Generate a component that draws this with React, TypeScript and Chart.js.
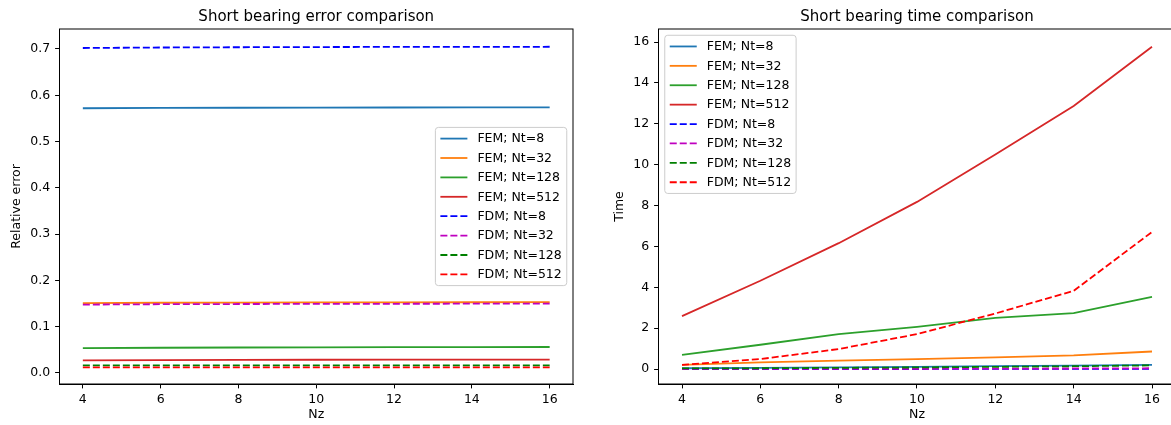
import React, { useEffect, useRef } from "react";
import { Chart, registerables } from "chart.js";

Chart.register(...registerables);

const FONT = '"DejaVu Sans", "Liberation Sans", sans-serif';

// ---- data ----
const nz = [4, 6, 8, 10, 12, 14, 16];
const xTicks = [4, 6, 8, 10, 12, 14, 16];
const errTicks = [0, 0.1, 0.2, 0.3, 0.4, 0.5, 0.6, 0.7];
const timeTicks = [0, 2, 4, 6, 8, 10, 12, 14, 16];

const seriesLabels = [
  "FEM; Nt=8",
  "FEM; Nt=32",
  "FEM; Nt=128",
  "FEM; Nt=512",
  "FDM; Nt=8",
  "FDM; Nt=32",
  "FDM; Nt=128",
  "FDM; Nt=512",
];
const seriesColors = ["#1f77b4", "#ff7f0e", "#2ca02c", "#d62728", "#0000ff", "#bf00bf", "#008000", "#ff0000"];
const seriesDashed = [false, false, false, false, true, true, true, true];

// relative error
const errFem8 = [0.572, 0.5727, 0.5731, 0.5734, 0.5736, 0.5737, 0.5738];
const errFem32 = [0.151, 0.1517, 0.1521, 0.1524, 0.1526, 0.1528, 0.1529];
const errFem128 = [0.0535, 0.0545, 0.0551, 0.0555, 0.0558, 0.056, 0.0561];
const errFem512 = [0.0272, 0.0279, 0.0283, 0.0286, 0.0288, 0.0289, 0.029];
const errFdm8 = [0.7022, 0.7032, 0.7038, 0.7042, 0.7045, 0.7047, 0.7048];
const errFdm32 = [0.1478, 0.1486, 0.149, 0.1493, 0.1495, 0.1497, 0.1498];
const errFdm128 = [0.0165, 0.0165, 0.0165, 0.0165, 0.0165, 0.0165, 0.0165];
const errFdm512 = [0.012, 0.012, 0.012, 0.012, 0.012, 0.012, 0.012];

// time
const timeFem8 = [0.04, 0.06, 0.08, 0.11, 0.14, 0.17, 0.21];
const timeFem32 = [0.21, 0.33, 0.41, 0.49, 0.57, 0.67, 0.86];
const timeFem128 = [0.7, 1.19, 1.71, 2.07, 2.51, 2.74, 3.53];
const timeFem512 = [2.59, 4.32, 6.16, 8.18, 10.5, 12.87, 15.77];
const timeFdm8 = [0.002, 0.003, 0.004, 0.005, 0.007, 0.009, 0.011];
const timeFdm32 = [0.005, 0.008, 0.012, 0.016, 0.022, 0.03, 0.04];
const timeFdm128 = [0.03, 0.04, 0.06, 0.08, 0.11, 0.14, 0.18];
const timeFdm512 = [0.21, 0.49, 0.98, 1.71, 2.72, 3.83, 6.71];

const errSeries = [errFem8, errFem32, errFem128, errFem512, errFdm8, errFdm32, errFdm128, errFdm512];
const timeSeries = [timeFem8, timeFem32, timeFem128, timeFem512, timeFdm8, timeFdm32, timeFdm128, timeFdm512];

// ---- plugins ----
const framePlugin = {
  id: "mplFrame",
  afterDatasetsDraw(chart: any) {
    const { ctx, chartArea } = chart;
    const { left, top, right, bottom } = chartArea;
    ctx.save();
    ctx.strokeStyle = "#000";
    ctx.lineWidth = 1;
    ctx.strokeRect(left, top, right - left, bottom - top);
    ctx.restore();
  },
};

const legendPlugin = {
  id: "mplLegend",
  afterDraw(chart: any, _args: any, opts: any) {
    const { ctx, chartArea } = chart;
    const fs = 12.5;
    ctx.save();
    ctx.font = `${fs}px ${FONT}`;
    const items = chart.data.datasets.map((ds: any) => ({
      label: ds.label as string,
      color: ds.borderColor as string,
      dash: (ds.borderDash || []) as number[],
    }));
    const textW = Math.max(...items.map((i: any) => ctx.measureText(i.label).width));
    const padX = 5;
    const handle = 27;
    const gap = 10;
    const rowH = 19.4;
    const w = padX + handle + gap + textW + padX;
    const h = items.length * rowH + 3;
    const axPad = 6.25;
    let x: number;
    let y: number;
    if (opts.loc === "center right") {
      x = chartArea.right - axPad - w;
      y = (chartArea.top + chartArea.bottom) / 2 - h / 2;
    } else {
      x = chartArea.left + axPad;
      y = chartArea.top + axPad;
    }
    // box
    const r = 3;
    ctx.beginPath();
    ctx.moveTo(x + r, y);
    ctx.lineTo(x + w - r, y);
    ctx.quadraticCurveTo(x + w, y, x + w, y + r);
    ctx.lineTo(x + w, y + h - r);
    ctx.quadraticCurveTo(x + w, y + h, x + w - r, y + h);
    ctx.lineTo(x + r, y + h);
    ctx.quadraticCurveTo(x, y + h, x, y + h - r);
    ctx.lineTo(x, y + r);
    ctx.quadraticCurveTo(x, y, x + r, y);
    ctx.closePath();
    ctx.fillStyle = "rgba(255,255,255,0.8)";
    ctx.fill();
    ctx.strokeStyle = "#cccccc";
    ctx.lineWidth = 1;
    ctx.stroke();

    items.forEach((it: any, i: number) => {
      const cy = y + 1.5 + rowH * (i + 0.5);
      ctx.beginPath();
      ctx.setLineDash(it.dash);
      ctx.strokeStyle = it.color;
      ctx.lineWidth = 1.8;
      ctx.moveTo(x + padX, cy);
      ctx.lineTo(x + padX + handle, cy);
      ctx.stroke();
      ctx.setLineDash([]);
      ctx.fillStyle = "#000";
      ctx.textAlign = "left";
      ctx.textBaseline = "middle";
      ctx.fillText(it.label, x + padX + handle + gap, cy + 0.5);
    });
    ctx.restore();
  },
};

function makeConfig(p: {
  title: string;
  yLabel: string;
  series: number[][];
  yMin: number;
  yMax: number;
  yTicks: number[];
  yFmt: (v: number) => string;
  loc: string;
  yAxisWidth: number;
  padRight: number;
  yTitlePad: number;
}): any {
  const datasets = p.series.map((vals, i) => ({
    label: seriesLabels[i],
    data: nz.map((x, j) => ({ x, y: vals[j] })),
    borderColor: seriesColors[i],
    backgroundColor: seriesColors[i],
    borderWidth: 1.8,
    borderDash: seriesDashed[i] ? [7, 3] : [],
    pointRadius: 0,
    tension: 0,
    fill: false,
    order: seriesLabels.length - i,
  }));
  return {
    type: "line",
    data: { datasets },
    plugins: [framePlugin, legendPlugin],
    options: {
      animation: false,
      responsive: false,
      devicePixelRatio: 1,
      parsing: true,
      layout: { padding: { left: 0, top: 0, bottom: 0, right: p.padRight } },
      plugins: {
        legend: { display: false },
        tooltip: { enabled: false },
        title: {
          display: true,
          text: p.title,
          color: "#000",
          fullSize: false,
          font: { family: FONT, size: 15, weight: "normal" },
          padding: { top: 8, bottom: 3 },
        },
        mplLegend: { loc: p.loc },
      },
      scales: {
        x: {
          type: "linear",
          min: 3.4,
          max: 16.6,
          afterFit(scale: any) {
            scale.height = 41;
          },
          afterBuildTicks(scale: any) {
            scale.ticks = xTicks.map((v) => ({ value: v }));
          },
          ticks: {
            color: "#000",
            font: { family: FONT, size: 12.5 },
            padding: 3.5,
            maxRotation: 0,
            autoSkip: false,
            callback: (v: any) => String(v),
          },
          grid: {
            display: true,
            drawOnChartArea: false,
            drawTicks: true,
            tickLength: 4.4,
            tickColor: "#000",
            tickWidth: 1,
          },
          border: { display: true, color: "#000", width: 1 },
          title: {
            display: true,
            text: "Nz",
            color: "#000",
            font: { family: FONT, size: 12.5 },
            padding: { top: 0, bottom: 2.5 },
          },
        },
        y: {
          type: "linear",
          min: p.yMin,
          max: p.yMax,
          afterFit(scale: any) {
            scale.width = p.yAxisWidth;
          },
          afterBuildTicks(scale: any) {
            scale.ticks = p.yTicks.map((v) => ({ value: v }));
          },
          ticks: {
            color: "#000",
            font: { family: FONT, size: 12.5 },
            padding: 5,
            autoSkip: false,
            callback: (v: any) => p.yFmt(Number(v)),
          },
          grid: {
            display: true,
            drawOnChartArea: false,
            drawTicks: true,
            tickLength: 4.4,
            tickColor: "#000",
            tickWidth: 1,
          },
          border: { display: true, color: "#000", width: 1 },
          title: {
            display: true,
            text: p.yLabel,
            color: "#000",
            font: { family: FONT, size: 12.5 },
            padding: { top: p.yTitlePad, bottom: 0 },
          },
        },
      },
    },
  };
}

function ChartCanvas(props: { config: any; left: number; width: number; height: number }) {
  const ref = useRef<HTMLCanvasElement | null>(null);
  useEffect(() => {
    if (!ref.current) return;
    const chart = new Chart(ref.current, props.config);
    return () => chart.destroy();
  }, []);
  return (
    <canvas
      ref={ref}
      width={props.width}
      height={props.height}
      style={{
        position: "absolute",
        left: props.left,
        top: 0,
        width: props.width,
        height: props.height,
      }}
    />
  );
}

export default function App() {
  const errConfig = makeConfig({
    title: "Short bearing error comparison",
    yLabel: "Relative error",
    series: errSeries,
    yMin: -0.0238,
    yMax: 0.7432,
    yTicks: errTicks,
    yFmt: (v) => v.toFixed(1),
    loc: "center right",
    yAxisWidth: 59.5,
    padRight: 17,
    yTitlePad: 9.5,
  });
  const timeConfig = makeConfig({
    title: "Short bearing time comparison",
    yLabel: "Time",
    series: timeSeries,
    yMin: -0.73,
    yMax: 16.64,
    yTicks: timeTicks,
    yFmt: (v) => String(Math.round(v)),
    loc: "upper left",
    yAxisWidth: 68.5,
    padRight: 14.5,
    yTitlePad: 22.5,
  });
  return (
    <div
      style={{
        position: "absolute",
        left: 0,
        top: 0,
        width: 1171,
        height: 425,
        overflow: "hidden",
        background: "#fff",
      }}
    >
      <ChartCanvas config={errConfig} left={0} width={590} height={425} />
      <ChartCanvas config={timeConfig} left={590} width={600} height={425} />
    </div>
  );
}
